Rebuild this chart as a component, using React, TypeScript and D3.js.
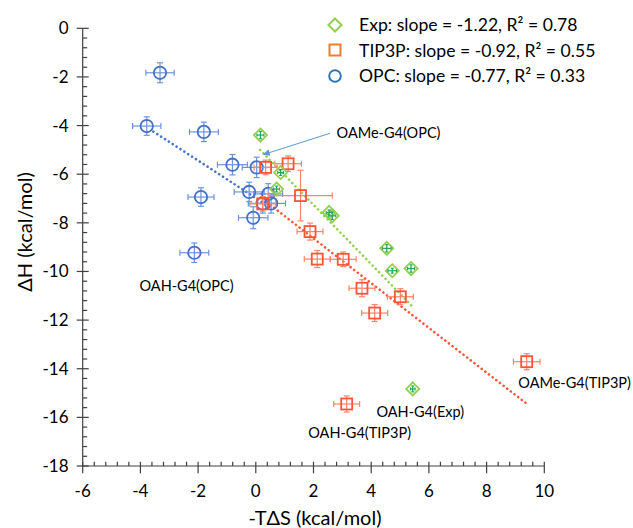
import React from "react";
import * as d3 from "d3";

// points: [-TdS, dH, xErr, yErr]
const expPoints = [
  [0.16, -4.39, 0.12, 0.15],
  [0.86, -5.93, 0.1, 0.12],
  [0.72, -6.61, 0.1, 0.12],
  [2.54, -7.57, 0.1, 0.1],
  [2.65, -7.71, 0.12, 0.15],
  [4.54, -9.05, 0.15, 0.15],
  [4.73, -9.97, 0.15, 0.1],
  [5.38, -9.88, 0.12, 0.15],
  [5.44, -14.83, 0.08, 0.12],
];

const tip3pPoints = [
  [0.34, -5.72, 0.4, 0.3],
  [1.12, -5.57, 0.46, 0.32],
  [1.55, -6.88, 1.1, 1.04],
  [0.24, -7.22, 0.45, 0.3],
  [1.88, -8.36, 0.45, 0.35],
  [2.13, -9.49, 0.45, 0.35],
  [3.03, -9.5, 0.45, 0.3],
  [3.68, -10.69, 0.45, 0.35],
  [5.01, -11.04, 0.45, 0.33],
  [4.12, -11.71, 0.45, 0.35],
  [9.39, -13.71, 0.46, 0.33],
  [3.15, -15.45, 0.45, 0.33],
];

const opcPoints = [
  [-3.32, -1.83, 0.49, 0.41],
  [-3.78, -4.02, 0.49, 0.38],
  [-1.8, -4.26, 0.5, 0.4],
  [-0.81, -5.61, 0.52, 0.42],
  [0.03, -5.72, 0.5, 0.42],
  [-0.23, -6.73, 0.52, 0.4],
  [0.43, -6.81, 0.5, 0.42],
  [-1.9, -6.94, 0.45, 0.38],
  [0.24, -7.2, 0.5, 0.4],
  [0.53, -7.2, 0.5, 0.4],
  [-0.09, -7.79, 0.51, 0.45],
  [-2.13, -9.23, 0.5, 0.4],
];

// trend lines: slope, intercept, x range
const expFit = { slope: -1.22, intercept: -4.82, from: 0.15, to: 5.44 };
const tip3pFit = { slope: -0.92, intercept: -6.8, from: 0.38, to: 9.36 };
const opcFit = { slope: -0.77, intercept: -6.98, from: -3.55, to: 0.5 };

const legendLabels = [
  "Exp: slope = -1.22, R² = 0.78",
  "TIP3P: slope = -0.92, R² = 0.55",
  "OPC: slope = -0.77, R² = 0.33",
];

const xTicks = [-6, -4, -2, 0, 2, 4, 6, 8, 10];
const yTicks = [0, -2, -4, -6, -8, -10, -12, -14, -16, -18];

const annotations = [
  { text: "OAMe-G4(OPC)", x: 2.8, y: -4.5, anchor: "start" },
  { text: "OAH-G4(OPC)", x: -2.4, y: -10.8, anchor: "middle" },
  { text: "OAH-G4(Exp)", x: 5.7, y: -16.0, anchor: "middle" },
  { text: "OAH-G4(TIP3P)", x: 3.6, y: -16.85, anchor: "middle" },
  { text: "OAMe-G4(TIP3P)", x: 9.1, y: -14.8, anchor: "start" },
];

const FONT = "Lato, 'Open Sans', sans-serif";
const BLUE = "#4472C4";
const BLUE_ERR = "#6C93E0";
const RED = "#FF5436";
const RED_ERR = "#FF8468";
const GREEN = "#92D050";
const GREEN_ERR = "#1FA85A";
const AXIS = "#404040";

const x = d3.scaleLinear().domain([-6, 10]).range([82.7, 544.3]);
const y = d3.scaleLinear().domain([0, -18]).range([28.3, 466]);

function ErrorBars({ pts, color, cap }: { pts: number[][]; color: string; cap: number }) {
  return (
    <g stroke={color} strokeWidth={1.2} fill="none">
      {pts.map((p, i) => {
        const cx = x(p[0]);
        const cy = y(p[1]);
        const x0 = x(p[0] - p[2]);
        const x1 = x(p[0] + p[2]);
        const y0 = y(p[1] + p[3]);
        const y1 = y(p[1] - p[3]);
        return (
          <g key={i}>
            <line x1={x0} x2={x1} y1={cy} y2={cy} />
            <line x1={cx} x2={cx} y1={y0} y2={y1} />
            <line x1={x0} x2={x0} y1={cy - cap} y2={cy + cap} />
            <line x1={x1} x2={x1} y1={cy - cap} y2={cy + cap} />
            <line x1={cx - cap} x2={cx + cap} y1={y0} y2={y0} />
            <line x1={cx - cap} x2={cx + cap} y1={y1} y2={y1} />
          </g>
        );
      })}
    </g>
  );
}

function FitLine({ fit, color }: { fit: any; color: string }) {
  return (
    <line
      x1={x(fit.from)}
      y1={y(fit.slope * fit.from + fit.intercept)}
      x2={x(fit.to)}
      y2={y(fit.slope * fit.to + fit.intercept)}
      stroke={color}
      strokeWidth={2.6}
      strokeDasharray="0.01 4.6"
      strokeLinecap="round"
    />
  );
}

const diamond = d3.symbol().type(d3.symbolDiamond2).size(110)();

export default function App() {
  const minorX = d3.range(-6, 10.001, 0.4).filter((v) => Math.abs(v / 2 - Math.round(v / 2)) > 0.01);
  const minorY = d3.range(0, -18.001, -0.4).filter((v) => Math.abs(v / 2 - Math.round(v / 2)) > 0.01);

  return (
    <svg
      width={633}
      height={528}
      style={{ position: "absolute", left: 0, top: 0, background: "#fff" }}
      fontFamily={FONT}
    >
      <defs>
        <marker id="arrow" viewBox="0 0 10 10" refX="9" refY="5" markerWidth="7" markerHeight="7" orient="auto">
          <path d="M0,0 L10,5 L0,10 z" fill="#5B9BD5" />
        </marker>
      </defs>

      {/* axes */}
      <g stroke={AXIS} strokeWidth={1.2}>
        <line x1={x(-6)} x2={x(-6)} y1={y(0)} y2={y(-18)} />
        <line x1={x(-6)} x2={x(10)} y1={y(-18)} y2={y(-18)} />
        {yTicks.map((t) => (
          <line key={t} x1={x(-6) - 6} x2={x(-6) + 6} y1={y(t)} y2={y(t)} />
        ))}
        {minorY.map((t) => (
          <line key={t} x1={x(-6)} x2={x(-6) + 4.5} y1={y(t)} y2={y(t)} />
        ))}
        {xTicks.map((t) => (
          <line key={t} x1={x(t)} x2={x(t)} y1={y(-18) - 4.3} y2={y(-18) + 7.3} />
        ))}
        {minorX.map((t) => (
          <line key={t} x1={x(t)} x2={x(t)} y1={y(-18) - 4.3} y2={y(-18)} />
        ))}
      </g>
      <g fontSize={17} fill="#000">
        {yTicks.map((t) => (
          <text key={t} x={68.5} y={y(t) + 6} textAnchor="end">
            {t}
          </text>
        ))}
        {xTicks.map((t) => (
          <text key={t} x={x(t)} y={497} textAnchor="middle">
            {t}
          </text>
        ))}
      </g>
      <text x={315} y={525} textAnchor="middle" fontSize={20}>
        -TΔS (kcal/mol)
      </text>
      <text transform="translate(32,232) rotate(-90)" textAnchor="middle" fontSize={20}>
        ΔH (kcal/mol)
      </text>

      {/* fit lines */}
      <FitLine fit={opcFit} color={BLUE} />
      <FitLine fit={expFit} color={GREEN} />
      <FitLine fit={tip3pFit} color={RED} />

      {/* OPC */}
      <ErrorBars pts={opcPoints} color={BLUE_ERR} cap={3} />
      {opcPoints.map((p, i) => (
        <circle key={i} cx={x(p[0])} cy={y(p[1])} r={6.2} fill="none" stroke={BLUE} strokeWidth={1.8} />
      ))}

      {/* TIP3P */}
      <ErrorBars pts={tip3pPoints} color={RED_ERR} cap={3} />
      {tip3pPoints.map((p, i) => (
        <rect key={i} x={x(p[0]) - 5.5} y={y(p[1]) - 5.5} width={11} height={11} fill="none" stroke={RED} strokeWidth={1.8} />
      ))}

      {/* Exp */}
      {expPoints.map((p, i) => (
        <path key={i} d={diamond as string} transform={`translate(${x(p[0])},${y(p[1])})`} fill="none" stroke={GREEN} strokeWidth={1.8} />
      ))}
      <ErrorBars pts={expPoints} color={GREEN_ERR} cap={1.5} />

      {/* annotations */}
      <line x1={330} y1={133.3} x2={263.5} y2={154.5} stroke="#5B9BD5" strokeWidth={1} markerEnd="url(#arrow)" />
      <g fontSize={14.5} fill="#000">
        {annotations.map((a) => (
          <text key={a.text} x={x(a.x)} y={y(a.y)} textAnchor={a.anchor as any}>
            {a.text}
          </text>
        ))}
      </g>

      {/* legend */}
      <g transform="translate(335,25)">
        <path d={diamond as string} fill="none" stroke={GREEN} strokeWidth={2} />
      </g>
      <rect x={329.5} y={44.5} width={11} height={11} fill="none" stroke="#ED7D31" strokeWidth={2} />
      <circle cx={335} cy={76} r={5.8} fill="none" stroke="#2E75B6" strokeWidth={2} />
      <g fontSize={17.6} fill="#000">
        {legendLabels.map((l, i) => (
          <text key={l} x={359} y={31 + i * 25.5}>
            {l}
          </text>
        ))}
      </g>
    </svg>
  );
}
